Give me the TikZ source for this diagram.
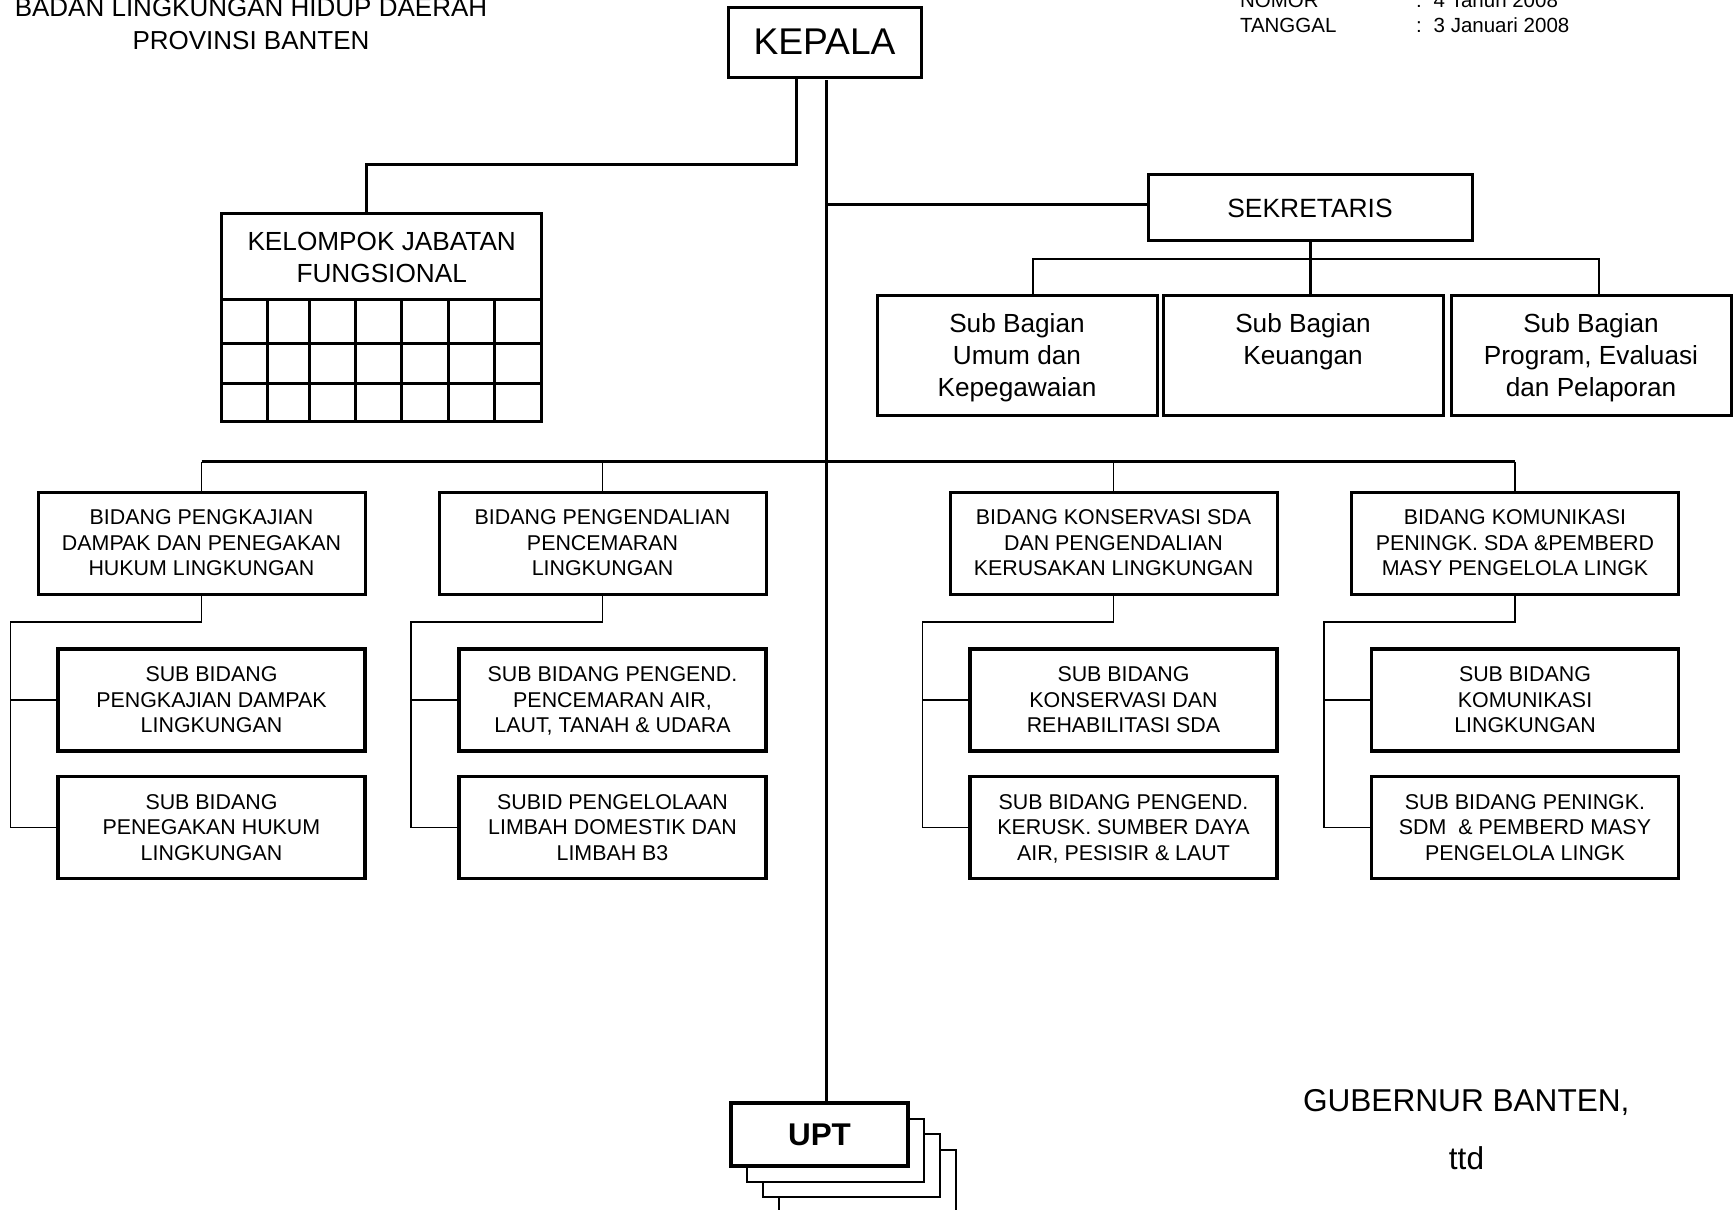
\documentclass[tikz,border=0pt]{standalone}
\usepackage{fontspec}
\setmainfont{Liberation Sans}
\begin{document}
\begin{tikzpicture}[x=0.5pt,y=-0.5pt,
  thickline/.style={line width=1.5pt},
  thinline/.style={line width=0.65pt},
  frame/.style={draw,line width=1.5pt,inner sep=0pt,outer sep=0pt,align=center,text depth=0pt},
  bagbox/.style={frame,minimum width=140pt,minimum height=60pt,font=\fontsize{13.1}{16}\selectfont},
  bidbox/.style={frame,minimum width=163.5pt,minimum height=51pt,font=\fontsize{10.7}{12.75}\selectfont},
  subbox/.style={frame,line width=1.6pt,minimum width=153.5pt,minimum height=51pt,font=\fontsize{10.7}{12.75}\selectfont},
  uptbox/.style={draw,fill=white,line width=1pt,inner sep=0pt,outer sep=0pt,minimum width=88.5pt,minimum height=31.5pt},
  plain/.style={inner sep=0pt,outer sep=0pt}
]
\useasboundingbox (0,0) rectangle (1736,1210);

% ---- header texts ----
\node[plain,anchor=base,font=\fontsize{13}{16}\selectfont] (hdrA) at (251,16.7) {BADAN LINGKUNGAN HIDUP DAERAH};
\node[plain,anchor=base,font=\fontsize{13}{16}\selectfont] (hdrB) at (251,49.3) {PROVINSI BANTEN};
\node[plain,anchor=base west,font=\fontsize{10.25}{12.8}\selectfont] (nomL) at (1240,7) {NOMOR};
\node[plain,anchor=base west,font=\fontsize{10.25}{12.8}\selectfont] (nomR) at (1416,7) {:\hspace{6pt}4 Tahun 2008};
\node[plain,anchor=base west,font=\fontsize{10.25}{12.8}\selectfont] (tglL) at (1240,32.3) {TANGGAL};
\node[plain,anchor=base west,font=\fontsize{10.25}{12.8}\selectfont] (tglR) at (1416,32.3) {:\hspace{6pt}3 Januari 2008};

% ---- top level ----
\node[frame,minimum width=96.5pt,minimum height=35pt,font=\fontsize{18.6}{22}\selectfont] (kepala) at (824.5,42) {KEPALA};

% functional group with its grid
\node[frame,minimum width=160pt,minimum height=104pt] (kjf) at (381.7,317) {};
\node[plain,align=center,text depth=0pt,font=\fontsize{13.1}{15.85}\selectfont] (kjftext) at (381.7,257) {KELOMPOK JABATAN\\FUNGSIONAL};
\foreach \yy in {299,343,383}
  \draw[thickline] (221.7,\yy) -- (541.7,\yy);
\foreach \xx in {267.7,309,355,401,448,494}
  \draw[thickline] (\xx,299) -- (\xx,421);

\coordinate (kjbend) at (796,164);
\coordinate (kjdrop) at (366.5,0);
\draw[thickline] (kepala.south -| kjbend) -- (kjbend) -| (kjdrop |- kjf.north);

% secretariat
\node[frame,minimum width=162pt,minimum height=33pt,font=\fontsize{13.2}{16}\selectfont] (sek) at (1310,207) {\raisebox{-1.5pt}{SEKRETARIS}};
\node[bagbox] (sb1) at (1017,355) {Sub Bagian\\Umum dan\\Kepegawaian};
\node[bagbox] (sb2) at (1303,355) {Sub Bagian\\Keuangan\\\strut};
\node[bagbox] (sb3) at (1591,355) {Sub Bagian\\Program, Evaluasi\\dan Pelaporan};

\draw[thickline] (sek.south) -- (sek.south |- sb2.north);
\coordinate (sbL) at (1033,259);
\coordinate (sbR) at (1599,259);
\draw[thinline] (sbL |- sb1.north) -- (sbL) -- (sbR) -- (sbR |- sb3.north);

% spine
\coordinate (spine) at (826.5,80);
\node[uptbox] (upt3) at (867.5,1181.5) {};
\node[uptbox] (upt2) at (851.5,1165.5) {};
\node[uptbox] (upt1) at (835.5,1150) {};
\node[uptbox,line width=1.6pt,font=\bfseries\fontsize{15.7}{18}\selectfont] (upt) at (819.5,1134.5) {\raisebox{-1pt}{UPT}};
\draw[thickline] (spine) -- (spine |- upt.north);
\draw[thickline] (spine |- 0,204.5) -- (sek.west |- 0,204.5);

% divisions
\node[bidbox] (b1) at (201.5,543) {BIDANG PENGKAJIAN\\DAMPAK DAN PENEGAKAN\\HUKUM LINGKUNGAN};
\node[bidbox] (b2) at (602.5,543) {BIDANG PENGENDALIAN\\PENCEMARAN\\LINGKUNGAN};
\node[bidbox] (b3) at (1113.5,543) {BIDANG KONSERVASI SDA\\DAN PENGENDALIAN\\KERUSAKAN LINGKUNGAN};
\node[bidbox] (b4) at (1515,543) {BIDANG KOMUNIKASI\\PENINGK. SDA \&PEMBERD\\MASY PENGELOLA LINGK};

\coordinate (bar) at (0,461.5);
\draw[thickline] (b1.north |- bar) -- (b4.north |- bar);
\foreach \b in {b1,b2,b3,b4}
  \draw[thinline] (\b.north |- bar) -- (\b.north);

% sub-divisions
\node[subbox] (s1a) at (211.5,700) {SUB BIDANG\\PENGKAJIAN DAMPAK\\LINGKUNGAN};
\node[subbox] (s1b) at (211.5,827.5) {SUB BIDANG\\PENEGAKAN HUKUM\\LINGKUNGAN};
\node[subbox] (s2a) at (612.5,700) {SUB BIDANG PENGEND.\\PENCEMARAN AIR,\\LAUT, TANAH \& UDARA};
\node[subbox] (s2b) at (612.5,827.5) {SUBID PENGELOLAAN\\LIMBAH DOMESTIK DAN\\LIMBAH B3};
\node[subbox] (s3a) at (1123.5,700) {SUB BIDANG\\KONSERVASI DAN\\REHABILITASI SDA};
\node[subbox] (s3b) at (1123.5,827.5) {SUB BIDANG PENGEND.\\KERUSK. SUMBER DAYA\\AIR, PESISIR \& LAUT};
\node[subbox] (s4a) at (1525,700) {SUB BIDANG\\KOMUNIKASI\\LINGKUNGAN};
\node[subbox] (s4b) at (1525,827.5) {SUB BIDANG PENINGK.\\SDM\ \ \& PEMBERD MASY\\PENGELOLA LINGK};

\foreach \b/\sa/\sb/\lx in {b1/s1a/s1b/10.5, b2/s2a/s2b/411, b3/s3a/s3b/922.5, b4/s4a/s4b/1324}{
  \coordinate (rail-\b) at (\lx,622);
  \draw[thinline] (\b.south) -- (\b.south |- rail-\b) -- (rail-\b) -- (rail-\b |- \sb.west) -- (\sb.west);
  \draw[thinline] (rail-\b |- \sa.west) -- (\sa.west);
}

% signature
\node[plain,anchor=base west,font=\fontsize{15.8}{19}\selectfont] (gub) at (1303,1111.7) {GUBERNUR BANTEN,};
\node[plain,anchor=base,font=\fontsize{15.8}{19}\selectfont] (ttd) at (1466.5,1169) {ttd};
\end{tikzpicture}
\end{document}
